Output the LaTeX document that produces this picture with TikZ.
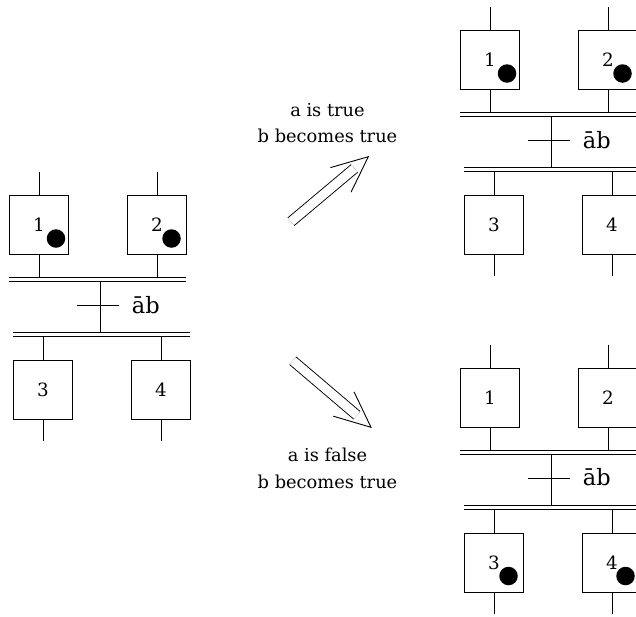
\documentclass[tikz,border=0pt]{standalone}
\usepackage{fontspec}
\setmainfont{DejaVu Serif}
\usetikzlibrary{calc}

\tikzset{
  stepbox/.style={draw, rectangle, minimum width=59pt, minimum height=59pt,
    inner sep=0pt, font=\fontsize{18.3}{22}\selectfont},
  token/.style={circle, fill=black, minimum size=18.5pt, inner sep=0pt},
  syncbar/.style={double, double distance=3pt},
  caption/.style={anchor=base, inner sep=0pt, font=\fontsize{17.8}{22}\selectfont},
  condlabel/.style={anchor=base west, inner sep=0pt, font=\fontsize{22.5}{26}\selectfont},
  shaft/.style={double, double distance=9pt},
}

% One Grafcet fragment: steps 1 and 2, a simultaneous transition, steps 3 and 4.
% #1 name prefix, #2/#3 centre of step 1, #4 tokens on steps 1-2, #5 tokens on steps 3-4
\newcommand\grafnet[5]{%
\begin{scope}[shift={(#2,#3)}]
  \node[stepbox] (#1-s1) at (0,0) {1};
  \node[stepbox] (#1-s2) at (118,0) {2};
  \node[stepbox] (#1-s3) at (4,165) {3};
  \node[stepbox] (#1-s4) at (122,165) {4};
  \coordinate (#1-in1) at (0,-53);
  \coordinate (#1-in2) at (118,-53);
  \coordinate (#1-out3) at (4,216);
  \coordinate (#1-out4) at (122,216);
  \coordinate (#1-j1w) at (-30,54.7);
  \coordinate (#1-j1e) at (147,54.7);
  \coordinate (#1-j2w) at (-26,109.7);
  \coordinate (#1-j2e) at (151,109.7);
  \coordinate (#1-tr) at (61,80.7);
  \draw (#1-in1) -- (#1-s1.north);
  \draw (#1-in2) -- (#1-s2.north);
  \draw (#1-s1.south) -- (#1-s1.south |- #1-j1w);
  \draw (#1-s2.south) -- (#1-s2.south |- #1-j1w);
  \draw (#1-tr |- #1-j1w) -- (#1-tr |- #1-j2w);
  \draw (#1-s3.north) -- (#1-s3.north |- #1-j2w);
  \draw (#1-s4.north) -- (#1-s4.north |- #1-j2w);
  \draw (#1-s3.south) -- (#1-out3);
  \draw (#1-s4.south) -- (#1-out4);
  \draw[syncbar] (#1-j1w) -- (#1-j1e);
  \draw[syncbar] (#1-j2w) -- (#1-j2e);
  \draw ([xshift=-23.3pt]#1-tr) -- ([xshift=19.3pt]#1-tr);
  \node[condlabel] (#1-cond) at (92.5,88) {\={a}b};
  \ifnum#4=1
    \node[token] (#1-m1) at (17,13.5) {};
    \node[token] (#1-m2) at (132.5,13.5) {};
  \fi
  \ifnum#5=1
    \node[token] (#1-m3) at (18.5,178.5) {};
    \node[token] (#1-m4) at (135.5,178.5) {};
  \fi
\end{scope}}

\begin{document}
\begin{tikzpicture}[x=1pt, y=-1pt, line width=0.9pt]
  \useasboundingbox (0,0) rectangle (636,616);
  \clip (0,0) rectangle (636,616);

  \grafnet{L}{39}{225}{1}{0}
  \grafnet{A}{490}{60}{1}{0}
  \grafnet{B}{490}{397.5}{0}{1}

  % evolution arrows
  \coordinate (up-tail) at (291,221.7);
  \coordinate (up-tip) at (368.3,156.7);
  \draw[shaft] (up-tail) -- ($(up-tail)!0.82!(up-tip)$);
  \draw ($(up-tip)!39.4pt!24:(up-tail)$) -- (up-tip) -- ($(up-tip)!39.4pt!-24:(up-tail)$);

  \coordinate (dn-tail) at (292.8,360.7);
  \coordinate (dn-tip) at (371,427.3);
  \draw[shaft] (dn-tail) -- ($(dn-tail)!0.82!(dn-tip)$);
  \draw ($(dn-tip)!39.4pt!24:(dn-tail)$) -- (dn-tip) -- ($(dn-tip)!39.4pt!-24:(dn-tail)$);

  \node[caption] (up-l1) at (327.5,116.7) {a is true};
  \node[caption] (up-l2) at (327.5,142.7) {b becomes true};
  \node[caption] (dn-l1) at (327.5,461.7) {a is false};
  \node[caption] (dn-l2) at (327.5,488.3) {b becomes true};
\end{tikzpicture}
\end{document}
